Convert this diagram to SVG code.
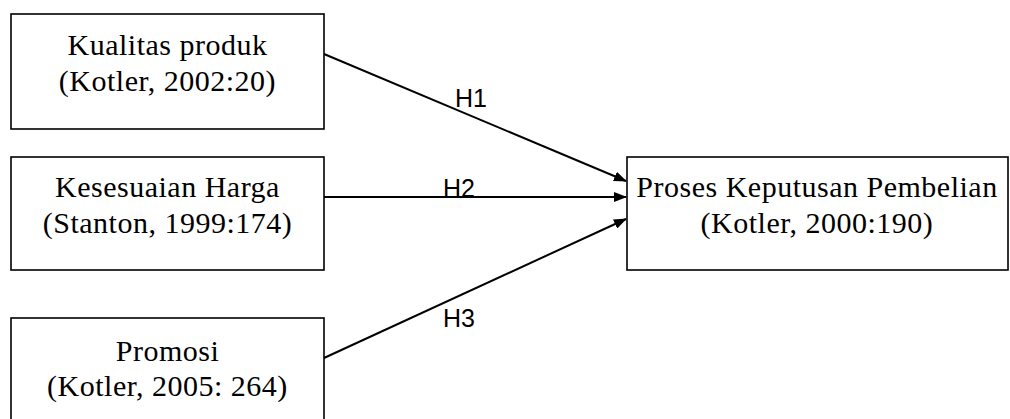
<svg xmlns="http://www.w3.org/2000/svg" width="1010" height="419" viewBox="0 0 1010 419">
  <style>
    .box { fill: #ffffff; stroke: #000000; stroke-width: 1.6; }
    .t { font-family: "Liberation Serif", "Times New Roman", serif; font-size: 30px; fill: #000000; text-anchor: middle; letter-spacing: 0.5px; }
    .lbl { font-family: "Liberation Sans", Arial, sans-serif; font-size: 25px; fill: #000000; }
    .edge { stroke: #000000; stroke-width: 2; fill: none; marker-end: url(#arrow); }
  </style>
  <defs>
    <marker id="arrow" markerWidth="13" markerHeight="10" refX="12" refY="5" orient="auto" markerUnits="userSpaceOnUse">
      <path d="M0,0 L13,5 L0,10 Z" fill="#000000"/>
    </marker>
  </defs>
  <rect width="1010" height="419" fill="#ffffff"/>

  <g id="node-kualitas">
    <rect class="box" x="11" y="14" width="313" height="115"/>
    <text class="t" x="167.5" y="55">Kualitas produk</text>
    <text class="t" x="167.5" y="91">(Kotler, 2002:20)</text>
  </g>

  <g id="node-harga">
    <rect class="box" x="11" y="157" width="313" height="113"/>
    <text class="t" x="167.5" y="197">Kesesuaian Harga</text>
    <text class="t" x="167.5" y="233">(Stanton, 1999:174)</text>
  </g>

  <g id="node-promosi">
    <rect class="box" x="11" y="318" width="313" height="115"/>
    <text class="t" x="167.5" y="361">Promosi</text>
    <text class="t" x="167.5" y="396">(Kotler, 2005: 264)</text>
  </g>

  <g id="node-keputusan">
    <rect class="box" x="627" y="157" width="381" height="113"/>
    <text class="t" x="817" y="197">Proses Keputusan Pembelian</text>
    <text class="t" x="817" y="233">(Kotler, 2000:190)</text>
  </g>

  <g id="connectors">
    <line class="edge" x1="324" y1="54" x2="626" y2="181"/>
    <line class="edge" x1="324" y1="197" x2="626" y2="197"/>
    <line class="edge" x1="324" y1="358" x2="626" y2="219"/>
    <text class="lbl" x="455" y="107">H1</text>
    <text class="lbl" x="443" y="197">H2</text>
    <text class="lbl" x="443" y="327">H3</text>
  </g>
</svg>
